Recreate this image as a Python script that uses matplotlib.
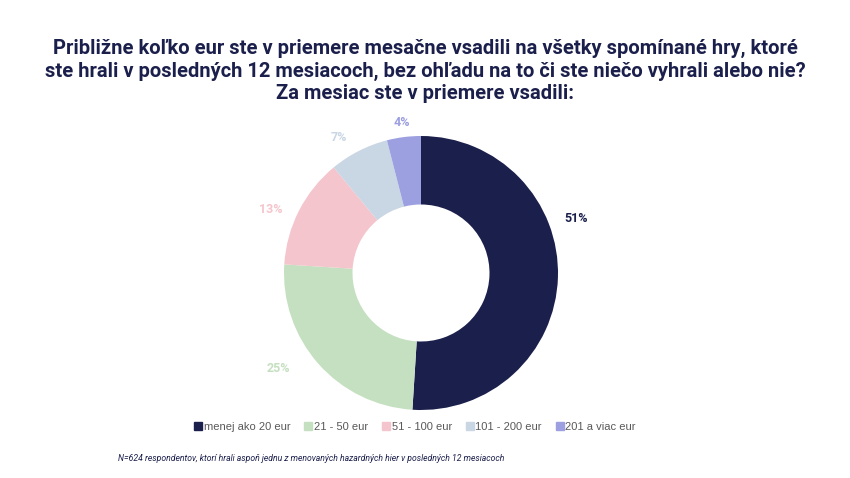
import matplotlib
matplotlib.use("Agg")
import matplotlib.pyplot as plt

# data
categories = ["menej ako 20 eur", "21 - 50 eur", "51 - 100 eur", "101 - 200 eur", "201 a viac eur"]
values = [51, 25, 13, 7, 4]
colors = ["#1b1f4b", "#c5e0c0", "#f4c5cc", "#c9d6e3", "#9c9fe0"]
label_colors = ["#1b1f4b", "#c5e0c0", "#f4c5cc", "#c9d6e3", "#9c9fe0"]
# label positions relative to the pie (radius = 1)
label_pos = [(1.13, 0.40), (-1.04, -0.70), (-1.10, 0.46), (-0.60, 0.99), (-0.14, 1.10)]

title = ("Približne koľko eur ste v priemere mesačne vsadili na všetky spomínané hry, ktoré\n"
         "ste hrali v posledných 12 mesiacoch, bez ohľadu na to či ste niečo vyhrali alebo nie?\n"
         "Za mesiac ste v priemere vsadili:")
footnote = "N=624 respondentov, ktorí hrali aspoň jednu z menovaných hazardných hier v posledných 12 mesiacoch"

plt.rcParams["font.family"] = ["Roboto", "DejaVu Sans"]

fig = plt.figure(figsize=(8.5, 4.78), dpi=100)
W, H = 850, 478
cx, cy, r = 421, 273, 137
ax = fig.add_axes([(cx - r) / W, 1 - (cy + r) / H, 2 * r / W, 2 * r / H])

wedges, _ = ax.pie(values, colors=colors, startangle=90, counterclock=False,
                   radius=1, wedgeprops=dict(width=0.5, linewidth=0))
ax.set_xlim(-1, 1)
ax.set_ylim(-1, 1)
ax.set_aspect("equal")

for v, (x, y), c in zip(values, label_pos, label_colors):
    ax.text(x, y, f"{v}%", color=c, fontsize=9, fontweight="bold",
            ha="center", va="center", clip_on=False)

fig.text(0.5, 1 - 71 / H, title, ha="center", va="center", fontsize=14.5,
         fontweight="bold", color="#1b1f4b", linespacing=1.2)

handles = [plt.Rectangle((0, 0), 1, 1, color=c) for c in colors]
fig.legend(handles, categories, loc="center", bbox_to_anchor=(415 / W, 1 - 427 / H),
           ncol=5, frameon=False, handlelength=0.72, handleheight=0.72,
           handletextpad=0.15, columnspacing=1.25,
           prop={"family": ["Liberation Sans", "DejaVu Sans"], "size": 8},
           labelcolor="#595959")

fig.text(118 / W, 1 - 458 / H, footnote, ha="left", va="center", fontsize=6.2,
         style="italic", color="#1b1f4b")

fig.savefig("out.png", dpi=100, facecolor="white")
